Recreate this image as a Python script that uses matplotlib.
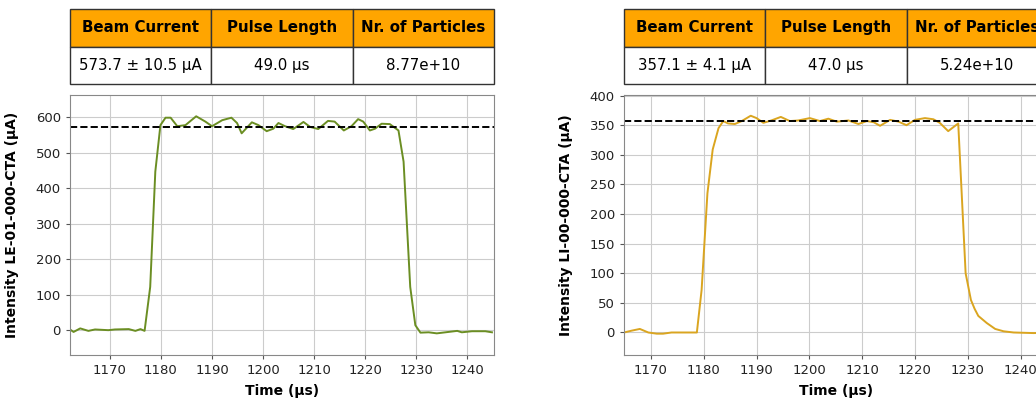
import numpy as np
import matplotlib.pyplot as plt

# beam current traces read out for two toroids
t_le = [1162.2, 1162.9, 1164.2, 1165.8, 1167.1, 1169.7, 1171.0, 1173.7, 1175.0, 1176.0,
        1176.8, 1177.9, 1178.9, 1179.9, 1180.9, 1181.9, 1183.2, 1184.8, 1186.9, 1188.7,
        1190.0, 1192.0, 1193.8, 1194.9, 1195.8, 1197.8, 1199.1, 1200.7, 1202.0, 1203.0,
        1204.3, 1205.9, 1207.9, 1209.2, 1210.8, 1212.7, 1214.0, 1215.8, 1217.3, 1218.6,
        1219.6, 1220.9, 1221.9, 1223.2, 1224.8, 1226.5, 1227.5, 1228.8, 1229.8, 1230.8,
        1232.4, 1234.0, 1235.7, 1238.0, 1238.9, 1240.9, 1243.5, 1244.8]
i_le = [2, -5, 5, -2, 2, 0, 2, 3, -2, 3,
        -2, 122, 447, 578, 599, 599, 575, 578, 603, 588,
        575, 592, 599, 584, 555, 586, 578, 561, 568, 584,
        575, 567, 587, 573, 567, 590, 588, 563, 575, 595,
        588, 563, 568, 582, 581, 563, 475, 122, 14, -7,
        -6, -9, -6, -2, -6, -3, -3, -6]

t_li = [1164.9, 1166.3, 1167.9, 1169.5, 1171.1, 1172.3, 1173.9, 1175.5, 1178.7, 1179.6,
        1180.7, 1181.7, 1182.8, 1183.7, 1184.6, 1185.9, 1187.2, 1188.9, 1190.0, 1191.3,
        1192.8, 1194.6, 1196.3, 1197.9, 1200.1, 1202.0, 1203.6, 1205.2, 1207.4, 1209.3,
        1210.9, 1212.2, 1213.4, 1215.3, 1216.9, 1218.4, 1220.0, 1221.9, 1223.5, 1224.7,
        1226.3, 1228.2, 1229.6, 1230.6, 1231.3, 1232.0, 1233.6, 1235.2, 1236.8, 1238.7,
        1242.5, 1246.0]
i_li = [0, 3, 6, 0, -2, -2, 0, 0, 0, 72,
        235, 309, 345, 357, 353, 352, 357, 366, 362, 354,
        358, 364, 357, 358, 362, 357, 361, 356, 358, 352,
        357, 355, 349, 359, 356, 350, 359, 362, 360, 354,
        340, 353, 100, 55, 40, 28, 16, 6, 2, 0,
        -1, 0]

table_cols = ["Beam Current", "Pulse Length", "Nr. of Particles"]
row_le = ["573.7 ± 10.5 µA", "49.0 µs", "8.77e+10"]
row_li = ["357.1 ± 4.1 µA", "47.0 µs", "5.24e+10"]
mean_le = 573.7
mean_li = 357.1

W, H = 1036, 404
fig = plt.figure(figsize=(W / 100, H / 100), dpi=100)


def panel(x0, t, cur, mean, color, ylabel, xlim, ylim, ystep, cols, row):
    ax = fig.add_axes([x0 / W, (H - 355) / H, 424 / W, 260 / H])
    ax.plot(t, cur, color=color, lw=1.4)
    ax.axhline(mean, color="black", ls="--", lw=1.4)
    ax.set_xlim(*xlim)
    ax.set_ylim(*ylim)
    ax.set_xticks(np.arange(1170, 1241, 10))
    ax.set_yticks(np.arange(0, ylim[1], ystep))
    ax.grid(True, color="#cccccc", lw=0.8)
    ax.tick_params(labelsize=9.5, colors="#222222", length=3, color="#555555")
    for s in ax.spines.values():
        s.set_color("#888888")
    ax.set_xlabel("Time (µs)", fontsize=10, fontweight="bold")
    ax.set_ylabel(ylabel, fontsize=10, fontweight="bold")
    ax.yaxis.set_label_coords(-0.12, 0.5)
    ax.xaxis.set_label_coords(0.5, -0.11)

    # summary table above the trace
    tax = fig.add_axes([x0 / W, (H - 84) / H, 424 / W, 75 / H])
    tax.axis("off")
    tb = tax.table(cellText=[row], colLabels=cols, cellLoc="center",
                   bbox=[0, 0, 1, 1])
    tb.auto_set_font_size(False)
    for (r, c), cell in tb.get_celld().items():
        cell.set_edgecolor("#333333")
        cell.set_linewidth(1.0)
        cell.get_text().set_fontsize(10.8)
        if r == 0:
            cell.set_facecolor("#FFA500")
            cell.get_text().set_fontweight("bold")
    return ax


panel(70, t_le, i_le, mean_le, "olivedrab", "Intensity LE-01-000-CTA (µA)",
      (1162.2, 1245.2), (-70, 663), 100, table_cols, row_le)
panel(624, t_li, i_li, mean_li, "goldenrod", "Intensity LI-00-000-CTA (µA)",
      (1164.9, 1245.2), (-38, 401), 50, table_cols, row_li)

fig.savefig("out.png", dpi=100)
